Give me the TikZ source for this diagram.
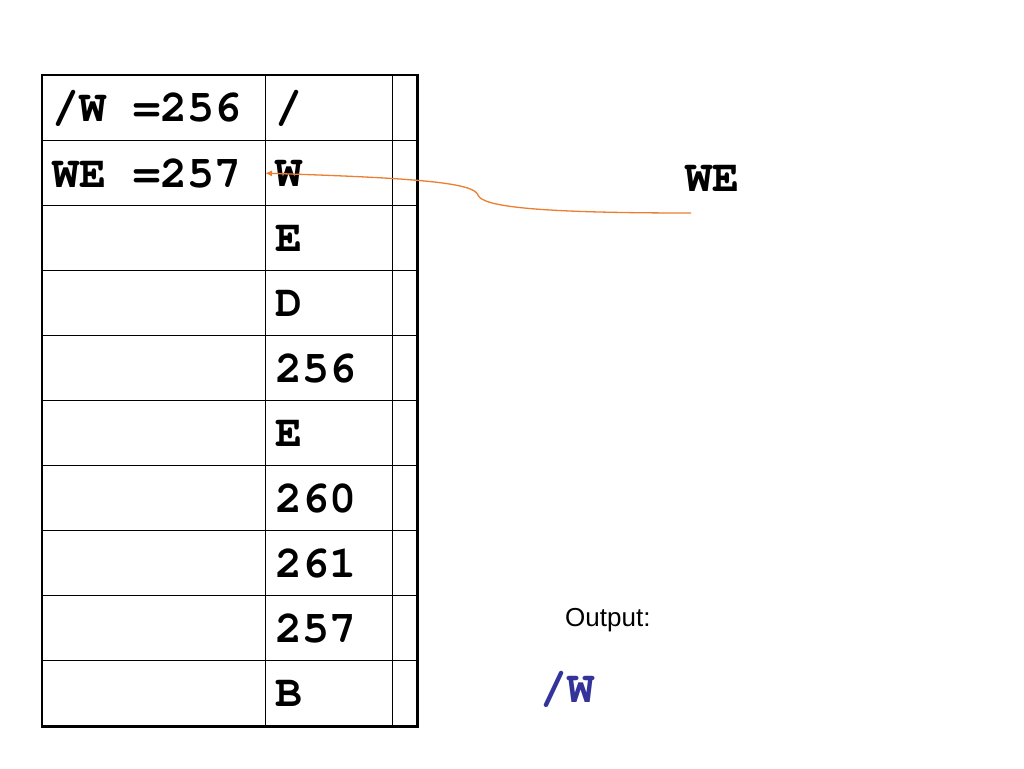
\documentclass[tikz,border=0pt]{standalone}
\usepackage{fontspec}
\setmainfont{Liberation Sans}
\setmonofont{TeX Gyre Cursor}
\usepackage{xcolor}
\usetikzlibrary{arrows.meta}
\definecolor{arancio}{RGB}{237,125,49}
\definecolor{blu}{RGB}{51,51,153}
\tikzset{
  cella/.style={draw, line width=1.4pt, minimum width=#1, minimum height=65pt, inner sep=0pt, anchor=north west},
  codice/.style={font=\ttfamily\bfseries\fontsize{45}{45}\selectfont, inner sep=0pt, anchor=west},
}

\begin{document}
\begin{tikzpicture}[x=1pt, y=-1pt]
    % Parametri
    \pgfmathsetmacro{\xa}{42}
    \pgfmathsetmacro{\xb}{265}
    \pgfmathsetmacro{\xc}{392}
    \pgfmathsetmacro{\ytop}{75}
    \pgfmathsetmacro{\riga}{65}
    \useasboundingbox (0,0) rectangle (1024,768);
    % Tabella
    \foreach \i in {1,...,10}{
        \pgfmathsetmacro{\y}{\ytop+\riga*(\i-1)}
        \node[cella=223pt] (a\i) at (\xa,\y) {};
        \node[cella=127pt] (b\i) at (\xb,\y) {};
        \node[cella=24pt] (c\i) at (\xc,\y) {};
    }
    \draw[line width=2.8pt] (a1.north west) rectangle (c10.south east);
    % Dizionario
    \node[codice] (ta1) at ([xshift=10pt]a1.west) {/W =256};
    \node[codice] (ta2) at ([xshift=10pt]a2.west) {WE =257};
    % Colonna dei codici
    \node[codice] (tb1) at ([xshift=10pt]b1.west) {/};
    \node[codice] (tb2) at ([xshift=10pt]b2.west) {W};
    \node[codice] (tb3) at ([xshift=10pt]b3.west) {E};
    \node[codice] (tb4) at ([xshift=10pt]b4.west) {D};
    \node[codice] (tb5) at ([xshift=10pt]b5.west) {256};
    \node[codice] (tb6) at ([xshift=10pt]b6.west) {E};
    \node[codice] (tb7) at ([xshift=10pt]b7.west) {260};
    \node[codice] (tb8) at ([xshift=10pt]b8.west) {261};
    \node[codice] (tb9) at ([xshift=10pt]b9.west) {257};
    \node[codice] (tb10) at ([xshift=10pt]b10.west) {B};
    % Stringa corrente e output
    \node[codice] (we) at (685,178) {WE};
    \node[font=\fontsize{26}{26}\selectfont, inner sep=0pt, anchor=west] (output) at (565,620) {Output:};
    \node[codice, text=blu] (uscita) at (540,689) {/W};
    % Freccia
    \coordinate (coda) at (691,213);
    \draw[arancio, line width=1.3pt, -{Latex[length=7pt, width=6pt]}] (coda) .. controls (540,213) and (482,207) .. (478,195) .. controls (474,183) and (420,178) .. (b2.west);
\end{tikzpicture}
\end{document}
